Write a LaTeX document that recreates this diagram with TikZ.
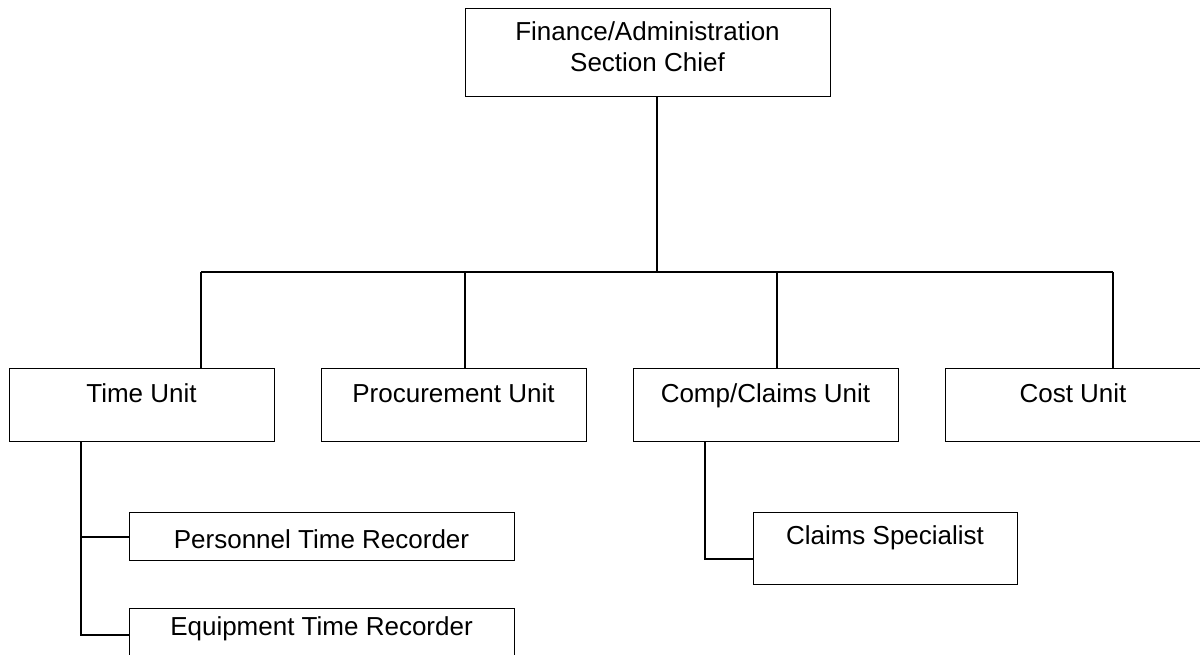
\documentclass[tikz,border=0pt]{standalone}
\usepackage{fontspec}
\setmainfont{Liberation Sans}
\begin{document}
\begin{tikzpicture}[x=1pt,y=-1pt,
  box/.style={draw=black, line width=1.3pt, rectangle, inner sep=0pt, anchor=north west},
  lbl/.style={font=\fontsize{26}{30}\selectfont, anchor=base, inner sep=0pt},
  wire/.style={line width=1.8pt}]
\useasboundingbox (0,0) rectangle (1200,655);
\clip (0,0) rectangle (1200,655);
% boxes
\node[box, minimum width=365pt, minimum height=88pt] (chief) at (465,8) {};
\node[box, minimum width=265pt, minimum height=73pt] (time) at (9,368) {};
\node[box, minimum width=265pt, minimum height=73pt] (proc) at (321,368) {};
\node[box, minimum width=265pt, minimum height=73pt] (comp) at (633,368) {};
\node[box, minimum width=258pt, minimum height=73pt] (cost) at (945,368) {};
\node[box, minimum width=385pt, minimum height=48pt] (pers) at (129,512) {};
\node[box, minimum width=385pt, minimum height=52pt] (equip) at (129,608) {};
\node[box, minimum width=264pt, minimum height=72pt] (claims) at (753,512) {};
% labels
\node[lbl] (chiefA) at (647.5,41) {Finance/Administration};
\node[lbl] (chiefB) at (647.5,72) {Section Chief};
\node[lbl] (timeL) at (141.5,402) {Time Unit};
\node[lbl] (procL) at (453.5,402) {Procurement Unit};
\node[lbl] (compL) at (765.5,402) {Comp/Claims Unit};
\node[lbl] (costL) at (1073,402) {Cost Unit};
\node[lbl] (persL) at (321.5,548) {Personnel Time Recorder};
\node[lbl] (equipL) at (321.5,635) {Equipment Time Recorder};
\node[lbl] (claimsL) at (885,544) {Claims Specialist};
% connectors
\coordinate (bus) at (657,272);
\coordinate (busL) at (201,272);
\coordinate (busP) at (465,272);
\coordinate (busC) at (777,272);
\coordinate (busR) at (1113,272);
\coordinate (tt) at (81,0);
\coordinate (cb) at (705,559);
\draw[wire] (chief.south -| bus) -- (bus);
\draw[wire] (busL) -- (busR);
\draw[wire] (busL) -- (busL |- time.north);
\draw[wire] (busP) -- (busP |- proc.north);
\draw[wire] (busC) -- (busC |- comp.north);
\draw[wire] (busR) -- (busR |- cost.north);
\draw[wire] (time.south -| tt) -- (tt |- equip.west) -- (equip.west);
\draw[wire] (tt |- pers.west) -- (pers.west);
\draw[wire] (comp.south -| cb) -- (cb) -- (cb -| claims.west);
\end{tikzpicture}
\end{document}
